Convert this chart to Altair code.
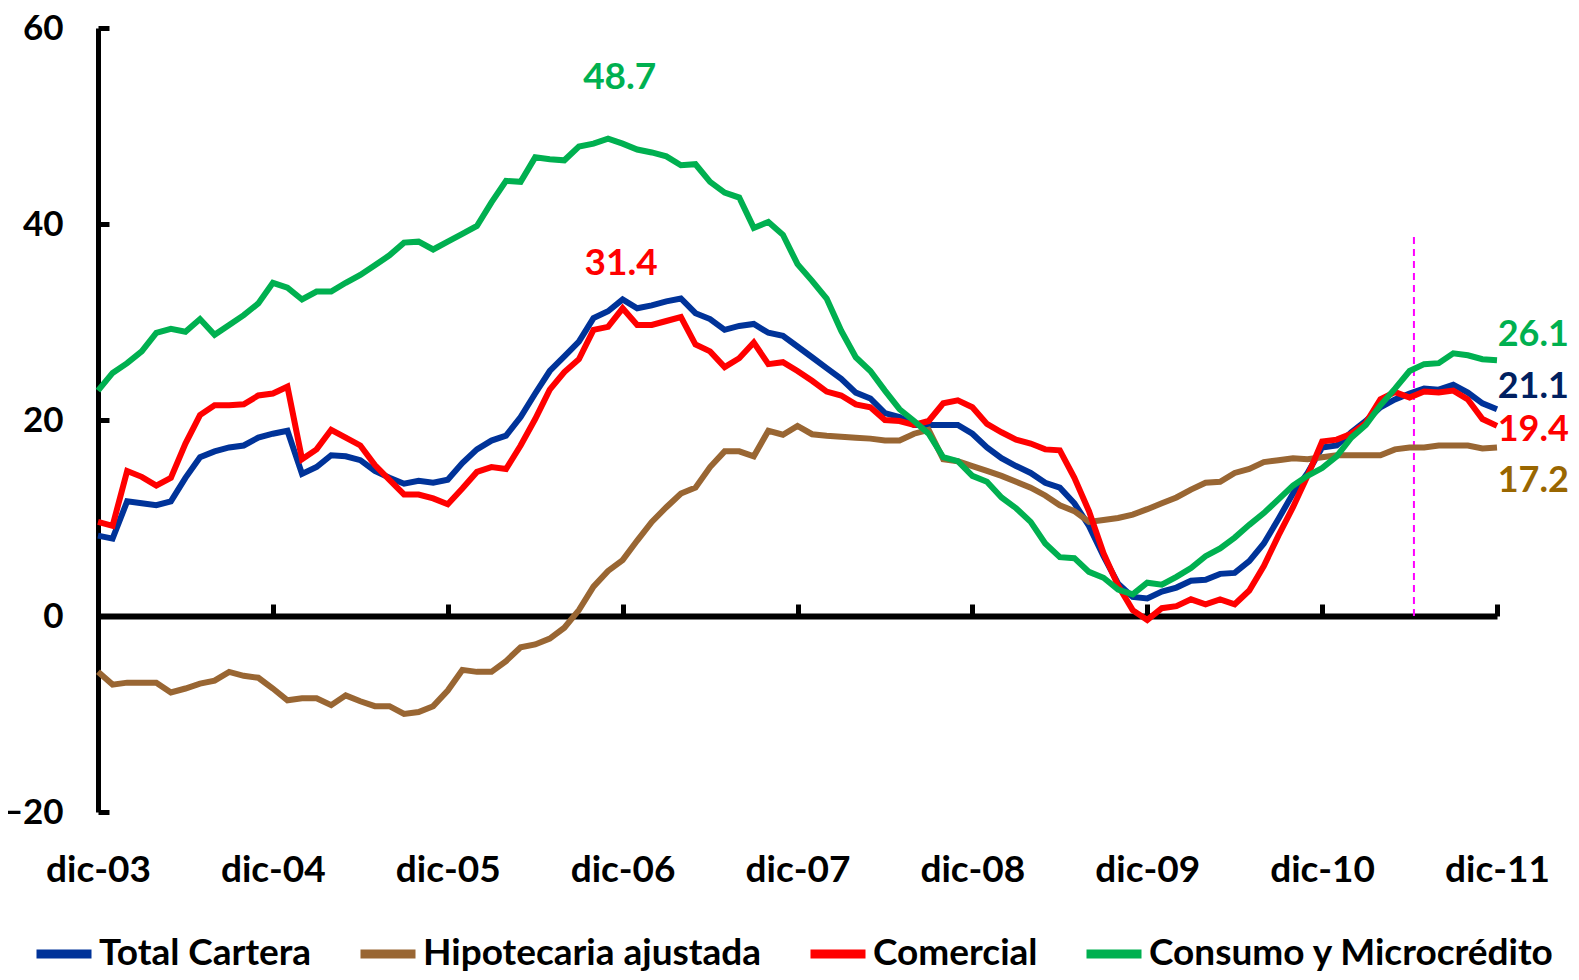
import altair as alt
import pandas as pd

# ---------------- data ----------------
tick_labels = ["dic-03", "dic-04", "dic-05", "dic-06", "dic-07", "dic-08", "dic-09", "dic-10", "dic-11"]
tick_values = [0, 12, 24, 36, 48, 60, 72, 84, 96]

total = [8.2, 7.9, 11.7, 11.5, 11.3, 11.7, 14.1, 16.2, 16.8, 17.2, 17.4, 18.2, 18.6, 18.9, 14.5, 15.2, 16.4,
         16.3, 15.9, 14.8, 14.1, 13.5, 13.8, 13.6, 13.9, 15.6, 17.0, 17.9, 18.4, 20.3, 22.7, 25.0, 26.5,
         28.0, 30.4, 31.1, 32.3, 31.4, 31.7, 32.1, 32.4, 30.9, 30.3, 29.2, 29.6, 29.8, 28.9, 28.6,
         27.5, 26.4, 25.3, 24.2, 22.8, 22.2, 20.7, 20.3, 19.5, 19.5, 19.5, 19.5, 18.6, 17.2, 16.1, 15.3,
         14.6, 13.6, 13.1, 11.5, 9.2, 6.1, 3.3, 1.95, 1.8, 2.5, 2.9, 3.6, 3.7, 4.3, 4.4, 5.6,
         7.4, 9.9, 12.5, 14.6, 17.2, 17.4, 18.75, 19.9, 21.3, 22.1, 22.7, 23.2, 23.1, 23.6, 22.8, 21.7, 21.1]

hipotecaria = [-5.7, -7.0, -6.8, -6.8, -6.8, -7.8, -7.4, -6.9, -6.6, -5.7, -6.1, -6.3, -7.4, -8.6, -8.4, -8.4, -9.1,
               -8.1, -8.7, -9.2, -9.2, -10.0, -9.8, -9.2, -7.6, -5.5, -5.7, -5.7, -4.6, -3.2, -2.9, -2.3, -1.2,
               0.6, 3.0, 4.6, 5.7, 7.7, 9.6, 11.1, 12.5, 13.1, 15.2, 16.8, 16.8, 16.3, 18.9, 18.5,
               19.4, 18.55, 18.4, 18.3, 18.2, 18.1, 17.9, 17.9, 18.6, 19.0, 16.0, 15.8, 15.3, 14.8, 14.3, 13.7,
               13.1, 12.3, 11.3, 10.7, 9.6, 9.8, 10.0, 10.35, 10.9, 11.5, 12.1, 12.9, 13.6, 13.7, 14.6, 15.0,
               15.7, 15.9, 16.1, 16.0, 16.2, 16.4, 16.4, 16.4, 16.4, 17.0, 17.2, 17.2, 17.4, 17.4, 17.4, 17.1, 17.2]

comercial = [9.6, 9.2, 14.8, 14.2, 13.3, 14.1, 17.6, 20.5, 21.5, 21.5, 21.6, 22.5, 22.7, 23.4, 16.0, 17.0, 19.0,
             18.2, 17.4, 15.4, 13.9, 12.4, 12.4, 12.0, 11.4, 13.0, 14.7, 15.2, 15.0, 17.4, 20.1, 23.1, 24.9,
             26.2, 29.2, 29.5, 31.4, 29.7, 29.7, 30.1, 30.5, 27.7, 27.0, 25.4, 26.3, 27.9, 25.7, 25.9,
             25.0, 24.0, 22.9, 22.5, 21.6, 21.3, 20.0, 19.9, 19.5, 19.9, 21.7, 22.0, 21.3, 19.6, 18.75, 18.0,
             17.6, 17.0, 16.9, 14.1, 10.7, 6.4, 3.1, 0.6, -0.4, 0.8, 1.0, 1.7, 1.2, 1.7, 1.2, 2.6,
             5.1, 8.2, 11.1, 14.3, 17.8, 18.0, 18.6, 19.7, 22.1, 22.85, 22.3, 22.9, 22.8, 23.0, 22.1, 20.1, 19.4]

consumo = [23.0, 24.8, 25.8, 27.0, 28.9, 29.3, 29.0, 30.3, 28.7, 29.7, 30.7, 31.9, 34.0, 33.5, 32.3, 33.1, 33.1,
           34.0, 34.8, 35.8, 36.8, 38.1, 38.2, 37.4, 38.2, 39.0, 39.8, 42.2, 44.4, 44.3, 46.8, 46.6, 46.5,
           47.9, 48.2, 48.7, 48.2, 47.6, 47.3, 46.9, 46.0, 46.1, 44.3, 43.2, 42.7, 39.6, 40.2, 38.9,
           35.9, 34.2, 32.4, 29.1, 26.4, 25.0, 23.0, 21.1, 19.9, 18.6, 16.2, 15.8, 14.3, 13.7, 12.1, 11.0,
           9.6, 7.4, 6.0, 5.9, 4.5, 3.9, 2.7, 2.2, 3.4, 3.2, 4.0, 4.9, 6.1, 6.9, 8.0, 9.3,
           10.5, 11.9, 13.3, 14.3, 15.1, 16.3, 18.2, 19.5, 21.5, 23.2, 25.0, 25.7, 25.8, 26.8, 26.6, 26.2, 26.1]

series_names = ["Total Cartera", "Hipotecaria ajustada", "Comercial", "Consumo y Microcrédito"]
series_colors = ["#003399", "#996633", "#FF0000", "#00B050"]
series_values = [total, hipotecaria, comercial, consumo]

end_labels = ["26.1", "21.1", "19.4", "17.2"]
end_label_x = [96.05, 96.05, 96.05, 96.05]
end_label_y = [28.7, 23.4, 19.0, 13.8]
end_label_colors = ["#00B050", "#002060", "#FF0000", "#996600"]

peak_labels = ["48.7", "31.4"]
peak_label_x = [35.8, 35.9]
peak_label_y = [54.9, 35.9]
peak_label_colors = ["#00B050", "#FF0000"]

marker_x = [90.3]
marker_bottom = [0]
marker_top = [39]

# ---------------- chart ----------------
W, H = 1399, 784
FONT = "Lato"
FS = 37

rows = []
for name, vals in zip(series_names, series_values):
    for i, v in enumerate(vals):
        rows.append({"mes": i, "valor": v, "serie": name})
df = pd.DataFrame(rows)

X_SCALE = alt.Scale(domain=[0, 96], nice=False, zero=False)
Y_SCALE = alt.Scale(domain=[-20, 60], nice=False, zero=False)

label_expr = "[" + ",".join("'%s'" % t for t in tick_labels) + "][round(datum.value/12)]"

x_bottom = alt.Axis(orient="bottom", values=tick_values, labelExpr=label_expr, domain=False,
                    ticks=False, tickSize=0, labelPadding=40, labelFont=FONT, labelFontSize=FS,
                    labelFontWeight="bold", labelColor="black", grid=False, title=None,
                    labelFlush=False, labelOverlap=False)
y_left = alt.Axis(orient="left", values=[-20, 0, 20, 40, 60], domain=True, domainColor="black",
                  domainWidth=5, ticks=False, tickSize=0, labelPadding=35, labelFont=FONT,
                  labelFontSize=35, labelFontWeight="bold", labelColor="black", grid=False,
                  title=None, labelOverlap=False, labelFlush=False)

color = alt.Color("serie:N", scale=alt.Scale(domain=series_names, range=series_colors),
                  legend=alt.Legend(orient="none", legendX=-66, legendY=894, direction="horizontal",
                                    title=None, symbolType="stroke", symbolSize=3025,
                                    symbolStrokeWidth=9, labelFont=FONT, labelFontSize=37,
                                    labelFontWeight="bold", labelColor="black", columnPadding=30,
                                    labelOffset=3, padding=0, labelLimit=0))

line_layers = []
for name in series_names:
    line_layers.append(
        alt.Chart(df[df["serie"] == name]).mark_line(strokeWidth=6).encode(
            x=alt.X("mes:Q", scale=X_SCALE, axis=x_bottom),
            y=alt.Y("valor:Q", scale=Y_SCALE, axis=y_left),
            color=color,
        )
    )

end_df = pd.DataFrame({"x": end_label_x, "y": end_label_y, "t": end_labels, "c": end_label_colors})
peak_df = pd.DataFrame({"x": peak_label_x, "y": peak_label_y, "t": peak_labels, "c": peak_label_colors})

end_text = alt.Chart(end_df).mark_text(font=FONT, fontSize=36, fontWeight="bold", align="left",
                                       baseline="middle").encode(
    x=alt.X("x:Q", scale=X_SCALE, axis=x_bottom),
    y=alt.Y("y:Q", scale=Y_SCALE, axis=y_left),
    text="t:N",
    color=alt.Color("c:N", scale=None),
)
peak_text = alt.Chart(peak_df).mark_text(font=FONT, fontSize=FS, fontWeight="bold", align="center",
                                         baseline="middle").encode(
    x=alt.X("x:Q", scale=X_SCALE, axis=x_bottom),
    y=alt.Y("y:Q", scale=Y_SCALE, axis=y_left),
    text="t:N",
    color=alt.Color("c:N", scale=None),
)

inner = alt.layer(*line_layers, end_text, peak_text)

marker_df = pd.DataFrame({"x": marker_x, "y": marker_bottom, "y2": marker_top})
marker = alt.Chart(marker_df).mark_rule(color="#FF00FF", strokeWidth=2, strokeDash=[7, 5]).encode(
    x=alt.X("x:Q", scale=X_SCALE,
            axis=alt.Axis(orient="top", offset=-(H * 60 / 80), values=tick_values, labels=False,
                          domain=True, domainWidth=6, domainColor="black", ticks=True, tickSize=12,
                          tickWidth=5, tickColor="black", title=None, grid=False)),
    y=alt.Y("y:Q", scale=Y_SCALE,
            axis=alt.Axis(orient="right", offset=-W, values=[-20, 0, 20, 40, 60], labels=False,
                          domain=False, ticks=True, tickSize=11, tickWidth=5, tickColor="black",
                          title=None, grid=False)),
    y2="y2:Q",
)

chart = alt.layer(marker, inner).resolve_axis(x="independent", y="independent").properties(
    width=W, height=H,
    padding={"left": 90, "top": 20, "right": 74, "bottom": 160},
    autosize=alt.AutoSizeParams(type="none"),
).configure_view(stroke=None)

chart.save("out.html", embed_options={"renderer": "svg", "actions": False})
